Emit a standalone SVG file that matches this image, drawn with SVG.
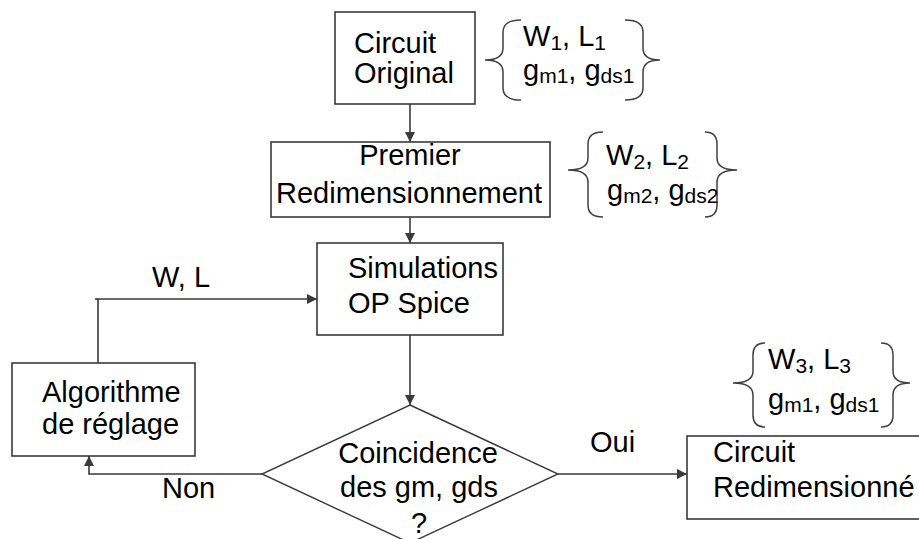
<svg xmlns="http://www.w3.org/2000/svg" width="919" height="539" viewBox="0 0 919 539">
<defs>
<marker id="arr" viewBox="0 0 10 10" refX="10" refY="5" markerWidth="10" markerHeight="10" markerUnits="userSpaceOnUse" orient="auto">
<path d="M0,0 L10,5 L0,10 z" fill="#3a3a3a"/>
</marker>
<style>
text{font-family:"Liberation Sans",Arial,sans-serif;font-size:29px;fill:#000}
.sub{font-size:21px}
.box{fill:#fff;stroke:#3a3a3a;stroke-width:1.6}
.brace{fill:none;stroke:#404040;stroke-width:1.5}
.conn{fill:none;stroke:#3a3a3a;stroke-width:1.6;marker-end:url(#arr)}
.mid{text-anchor:middle}
</style>
</defs>
<rect width="919" height="539" fill="#fff"/>

<g id="connectors">
<path class="conn" d="M410,104 V142"/>
<path class="conn" d="M410,217 V243"/>
<path class="conn" d="M410,335 V405"/>
<path class="conn" d="M558,474 H687"/>
<path class="conn" d="M262,474 H89 V456"/>
<path class="conn" d="M98,363 V299 H317"/>
<path d="M95,299 H98" stroke="#3a3a3a" stroke-width="1.6"/>
<text x="152" y="287">W, L</text>
<text x="590" y="452">Oui</text>
<text x="162" y="498">Non</text>
</g>

<g id="circuit-original">
<rect class="box" x="335" y="12" width="140" height="92"/>
<text x="354" y="53">Circuit</text>
<text x="354" y="83">Original</text>
</g>

<g id="params1">
<path class="brace" d="M521,20 Q503,20 503,32 L503,48 Q503,60 485,60 Q503,60 503,72 L503,88 Q503,100 521,100"/>
<path class="brace" d="M625,20 Q643,20 643,32 L643,48 Q643,60 660,60 Q643,60 643,72 L643,88 Q643,100 625,100"/>
<text x="523" y="46">W<tspan class="sub" dy="4">1</tspan><tspan dy="-4">, L</tspan><tspan class="sub" dy="4">1</tspan></text>
<text x="523" y="80">g<tspan class="sub" dy="3">m1</tspan><tspan dy="-3">, g</tspan><tspan class="sub" dy="3">ds1</tspan></text>
</g>

<g id="premier">
<rect class="box" x="271" y="142" width="279" height="75"/>
<text class="mid" x="410" y="165">Premier</text>
<text class="mid" x="409" y="203">Redimensionnement</text>
</g>

<g id="params2">
<path class="brace" d="M603,132 Q588,132 588,144 L588,158 Q588,170 568,170 Q588,170 588,182 L588,205 Q588,217 603,217"/>
<path class="brace" d="M705,132 Q717,132 717,144 L717,158 Q717,170 737,170 Q717,170 717,182 L717,205 Q717,217 705,217"/>
<text x="606" y="165">W<tspan class="sub" dy="4">2</tspan><tspan dy="-4">, L</tspan><tspan class="sub" dy="4">2</tspan></text>
<text x="607" y="200">g<tspan class="sub" dy="3">m2</tspan><tspan dy="-3">, g</tspan><tspan class="sub" dy="3">ds2</tspan></text>
</g>

<g id="simulations">
<rect class="box" x="317" y="243" width="186" height="92"/>
<text x="348" y="278">Simulations</text>
<text x="348" y="313">OP Spice</text>
</g>

<g id="algorithme">
<rect class="box" x="12" y="363" width="183" height="93"/>
<text x="42" y="402">Algorithme</text>
<text x="42" y="434">de réglage</text>
</g>

<g id="decision">
<path d="M410,405 L558,474 L410,543 L262,474 Z" fill="#fff" stroke="#3a3a3a" stroke-width="1.4"/>
<text class="mid" x="418" y="463">Coincidence</text>
<text class="mid" x="419" y="497">des gm, gds</text>
<text class="mid" x="419" y="533">?</text>
</g>

<g id="params3">
<path class="brace" d="M765,343 Q753,343 753,355 L753,371 Q753,383 733,383 Q753,383 753,395 L753,415 Q753,427 765,427"/>
<path class="brace" d="M881,343 Q893,343 893,355 L893,371 Q893,383 910,383 Q893,383 893,395 L893,415 Q893,427 881,427"/>
<text x="768" y="369">W<tspan class="sub" dy="4">3</tspan><tspan dy="-4">, L</tspan><tspan class="sub" dy="4">3</tspan></text>
<text x="768" y="409">g<tspan class="sub" dy="3">m1</tspan><tspan dy="-3">, g</tspan><tspan class="sub" dy="3">ds1</tspan></text>
</g>

<g id="circuit-redimensionne">
<rect class="box" x="687" y="436" width="250" height="83"/>
<text x="713" y="462">Circuit</text>
<text x="713" y="497">Redimensionné</text>
</g>
</svg>
